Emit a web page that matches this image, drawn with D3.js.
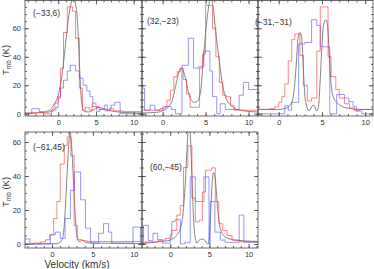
<!DOCTYPE html>
<html>
<head>
<meta charset="utf-8">
<script src="https://cdn.jsdelivr.net/npm/d3@7"></script>
<style>
  body { margin: 0; background: #fff; }
  svg { display: block; }
  text { font-family: "Liberation Sans", Arial, sans-serif; fill: #333; }
</style>
</head>
<body>
<svg id="chart" width="374" height="269"></svg>
<script>
// positions (offsets) shown in each panel
const labels = ["(\u221233,6)", "(32,\u221223)", "(\u221231,\u221231)", "(\u221261,45)", "(60,\u221245)"];
// velocity range of each panel (km/s)
const velRanges = [[-4.4, 11.1], [-2.4, 11.1], [-2.4, 10.9], [-3.3, 11.0], [-3.6, 11.2]];
const tempRangeTop = [-1.6, 79.5];
const tempRangeBottom = [-2.35, 65.9];
const velTicks = [0, 5, 10];
const tempTicks = [0, 20, 40, 60];

// red spectra: [v of channel left edge, Tmb]
const red1 = [[-4.4,0.5],[-3,0.8],[-1.7,1],[-1.2,1.5],[-0.7,3.5],[-0.45,7.5],[0,12],[0.3,32],[0.7,57],[1.2,75],[1.9,72],[2.3,53],[2.8,18],[3.2,2.5],[3.6,4.5],[4.1,2.5],[4.5,7.5],[5.0,5],[5.4,3],[6.2,2],[6.8,4],[7.3,2],[8.5,1.5],[11.1,1.5]];
const red2 = [[-2.4,2.5],[0,4.8],[0.5,9.5],[0.9,16.5],[1.3,26],[1.7,29.5],[2.05,32],[2.4,24],[2.8,14],[3.2,4.5],[4.3,32],[4.65,42],[5.0,76],[5.8,60],[6.2,40],[6.6,22],[7.0,13],[7.4,12],[7.9,6],[8.3,2.5],[11.1,2.5]];
const red3 = [[-2.4,3],[-1.0,3.5],[-0.5,4.7],[0,8],[0.35,12],[0.7,21],[1.1,37],[1.5,52],[1.86,56],[2.45,41],[2.85,20],[3.3,9],[3.8,11],[4.4,44],[4.8,75],[5.7,40],[6.05,26],[6.6,17],[7.0,11],[7.6,7],[8.2,4],[8.8,2],[9.3,3],[10.9,3]];
const red4 = [[-3.3,0],[-2.25,0.6],[-1.4,1.2],[-0.8,2.5],[-0.3,5.4],[0.2,15],[0.6,25],[1.0,47],[1.5,58],[1.85,63],[2.3,52],[2.7,11],[3.1,2.5],[3.7,2],[4.3,1.5],[11.0,1.5]];
const red5 = [[-3.6,0.5],[-3.2,1.2],[-1.5,2.3],[-0.6,3.3],[0.2,8],[0.85,17],[1.28,22.6],[1.7,45],[2.25,57.7],[2.77,27],[3.2,13],[3.7,14],[4.1,30.6],[4.5,43.4],[5.3,44.8],[5.75,25],[6.2,12],[6.7,8],[7.25,5],[7.9,2.3],[8.9,1.3],[11.2,1.3]];

// blue spectra: [v of channel left edge, Tmb]
const blue1 = [[-4.4,0],[-3.5,3.5],[-2.5,1.5],[-2.0,0],[-0.9,2.5],[-0.3,4.5],[0,11],[0.3,18],[0.7,23.5],[1.2,30],[1.6,34],[2.3,30],[2.8,25],[3.3,20],[3.8,16],[4.2,12],[4.6,5],[5.1,1.5],[5.5,3],[6.1,6],[6.5,2.5],[7.0,6],[7.5,8],[8.2,0],[11.1,0]];
const blue2 = [[-2.4,18],[-2.1,2.5],[-1.45,6],[-0.9,2.5],[-0.3,3.5],[0.3,5],[1.0,3],[1.5,0],[2.25,34],[3.0,53],[3.6,32],[4.2,33],[4.8,44],[5.5,30],[5.8,12],[6.3,0],[6.7,7],[7.3,3],[8.9,13],[9.4,22],[10,17],[11.1,17]];
const blue3 = [[-2.4,0],[0.7,5.6],[1.1,2.5],[1.5,8],[2.3,49],[3.0,50],[3.8,66],[4.4,62],[4.8,47],[5.9,0],[6.7,13.5],[7.6,11],[8.1,8.5],[8.6,5],[9.0,2],[9.6,0],[10.9,0]];
const blue4 = [[-3.3,3],[-2.7,0],[-0.2,5.4],[0.4,7],[1.0,3.3],[1.6,15],[2.25,31.6],[2.75,42.4],[3.5,26],[4.1,9.3],[4.7,0.5],[5.7,6.3],[6.3,12],[6.9,7],[7.3,0.5],[9.9,10],[10.8,0],[11.0,0]];
const blue5 = [[-3.6,0],[-3.4,11],[-2.8,2],[-2.2,6.3],[-1.6,2.5],[-1.0,0.5],[0,5.4],[0.2,13.3],[0.64,14.3],[1.3,0],[1.9,1],[2.55,39.5],[3.2,25],[4.3,39.5],[4.95,0],[5.1,25],[5.7,7],[6.4,2.3],[7.0,1],[8.8,17],[9.4,1],[11.2,1]];

// gray fitted profiles: [v, Tmb]
const fit1 = [[-4.4,0.3],[-3,0.5],[-2,1],[-1.5,1.8],[-1,3],[-0.5,7],[0,13],[0.5,27],[1,50],[1.5,72],[2,81],[2.4,74],[2.7,50],[2.9,25],[3.1,8],[3.4,2],[4,1.2],[4.6,2.5],[5.3,4.5],[6,3.5],[7,2],[8,1.2],[9,0.8],[11.1,0.5]];
const fit2 = [[-2.4,0.5],[-1,0.8],[0,2],[0.7,5],[1.2,11],[1.5,19],[1.8,27],[2.1,32],[2.4,30],[2.7,24],[3.0,15],[3.3,10],[3.7,8],[4.0,8.5],[4.4,15],[4.8,43],[5.2,68],[5.6,81],[5.9,74],[6.2,56],[6.5,42],[6.9,23],[7.3,12],[8.1,5],[9,2.5],[11.1,1.2]];
const fit3 = [[-2.4,3],[0,3],[0.9,4],[1.5,8],[1.85,21],[2.05,37],[2.25,54],[2.45,57],[2.64,54],[2.83,33],[3.0,14],[3.2,6],[3.5,2],[3.8,5],[4.07,6],[4.4,2],[4.6,5],[4.77,21],[4.96,44],[5.2,63],[5.46,66],[5.66,61],[5.85,40],[6.05,21],[6.3,12],[6.78,7.5],[7.87,4],[9.4,3],[10.9,3]];
const fit4 = [[-3.3,0],[0.5,0.2],[0.9,0.8],[1.2,2.3],[1.42,7],[1.63,21],[1.83,40],[2.04,58],[2.2,66],[2.45,54],[2.65,34],[2.86,15],[3.06,4],[3.35,1.3],[3.68,2.3],[4.1,1],[5,0.5],[11.0,0.3]];
const fit5 = [[-3.6,0.3],[-1.5,1.3],[0,2.3],[0.64,4.2],[1.28,9],[1.7,21],[1.9,34],[2.1,52],[2.35,70],[2.45,72],[2.55,66],[2.77,40],[2.98,15],[3.2,3.3],[3.4,0.6],[3.7,2.3],[4.04,2.9],[4.4,2.3],[4.7,0.2],[4.9,0.2],[5.1,13],[5.33,34],[5.5,42],[5.75,38],[6.05,21],[6.4,9],[7.0,4.2],[8.3,2.3],[11.2,1.5]];

const reds = [red1, red2, red3, red4, red5];
const blues = [blue1, blue2, blue3, blue4, blue5];
const fits = [fit1, fit2, fit3, fit4, fit5];

// panel boxes in pixels
const boxes = [
  {x0: 25, x1: 142, y0: 0.5, y1: 116},
  {x0: 142, x1: 258, y0: 0.5, y1: 116},
  {x0: 258, x1: 373, y0: 0.5, y1: 116},
  {x0: 25, x1: 142, y0: 132, y1: 248},
  {x0: 142, x1: 258, y0: 132, y1: 248}
];
const labelPos = [[33, 16], [147, 24], [255, 25], [33, 150], [150, 170]];

const svg = d3.select('#chart');

boxes.forEach((b, i) => {
  const x = d3.scaleLinear().domain(velRanges[i]).range([b.x0, b.x1]);
  const y = d3.scaleLinear().domain(i < 3 ? tempRangeTop : tempRangeBottom).range([b.y1, b.y0]);

  const g = svg.append('g');
  g.append('clipPath').attr('id', 'clip' + i)
    .append('rect').attr('x', b.x0).attr('y', b.y0).attr('width', b.x1 - b.x0).attr('height', b.y1 - b.y0);
  const plot = g.append('g').attr('clip-path', 'url(#clip' + i + ')');

  const step = d3.line().x(d => x(d[0])).y(d => y(d[1])).curve(d3.curveStepAfter);
  const smooth = d3.line().x(d => x(d[0])).y(d => y(d[1])).curve(d3.curveMonotoneX);

  plot.append('path').attr('d', smooth(fits[i]))
    .attr('fill', 'none').attr('stroke', '#666').attr('stroke-width', 0.8);
  plot.append('path').attr('d', step(blues[i]))
    .attr('fill', 'none').attr('stroke', 'rgba(80,80,255,0.6)').attr('stroke-width', 1);
  plot.append('path').attr('d', step(reds[i]))
    .attr('fill', 'none').attr('stroke', 'rgba(255,50,50,0.6)').attr('stroke-width', 1);

  // frame
  g.append('rect').attr('x', b.x0).attr('y', b.y0).attr('width', b.x1 - b.x0).attr('height', b.y1 - b.y0)
    .attr('fill', 'none').attr('stroke', '#444').attr('stroke-width', 0.8);

  const minorX = d3.range(Math.ceil(velRanges[i][0]), velRanges[i][1], 1);
  const minorY = d3.range(0, y.domain()[1], 5);

  const axes = [
    [d3.axisBottom(x).tickValues(velTicks).tickSize(-4).tickPadding(4), 'translate(0,' + b.y1 + ')'],
    [d3.axisBottom(x).tickValues(minorX).tickSize(-2).tickFormat(''), 'translate(0,' + b.y1 + ')'],
    [d3.axisTop(x).tickValues(velTicks).tickSize(-4).tickFormat(''), 'translate(0,' + b.y0 + ')'],
    [d3.axisTop(x).tickValues(minorX).tickSize(-2).tickFormat(''), 'translate(0,' + b.y0 + ')'],
    [d3.axisLeft(y).tickValues(tempTicks).tickSize(-4).tickPadding(4).tickFormat(i === 0 || i === 3 ? d3.format('d') : ''), 'translate(' + b.x0 + ',0)'],
    [d3.axisLeft(y).tickValues(minorY).tickSize(-2).tickFormat(''), 'translate(' + b.x0 + ',0)'],
    [d3.axisRight(y).tickValues(tempTicks).tickSize(-4).tickFormat(''), 'translate(' + b.x1 + ',0)'],
    [d3.axisRight(y).tickValues(minorY).tickSize(-2).tickFormat(''), 'translate(' + b.x1 + ',0)']
  ];
  axes.forEach(([ax, tr]) => {
    const a = g.append('g').attr('transform', tr).call(ax);
    a.select('.domain').remove();
    a.selectAll('line').attr('stroke', '#444').attr('stroke-width', 0.8);
    a.selectAll('text').attr('font-size', 7.5).attr('fill', '#333')
      .attr('font-family', '"Liberation Sans", Arial, sans-serif');
  });

  g.append('text').attr('x', labelPos[i][0]).attr('y', labelPos[i][1])
    .attr('font-size', 8.5).text(labels[i]);
});

// y-axis titles
[60, 192].forEach(cy => {
  const t = svg.append('text').attr('transform', 'translate(9,' + cy + ') rotate(-90)')
    .attr('text-anchor', 'middle').attr('font-size', 9.5);
  t.append('tspan').text('T');
  t.append('tspan').attr('font-size', 6.5).attr('dy', 2).text('mb');
  t.append('tspan').attr('dy', -2).text(' (K)');
});

svg.append('text').attr('x', 77).attr('y', 267.5).attr('text-anchor', 'middle')
  .attr('font-size', 10).text('Velocity (km/s)');
</script>
</body>
</html>
